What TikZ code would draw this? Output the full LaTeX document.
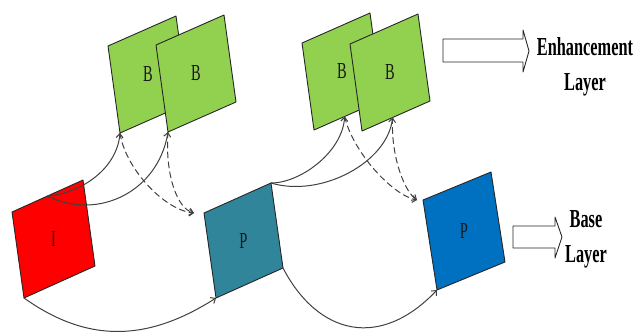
\documentclass[tikz,border=0pt]{standalone}
\usepackage{fontspec}
\setmainfont{Liberation Serif}
\usepackage{graphicx}
\usetikzlibrary{calc,arrows.meta}
\definecolor{bgreen}{RGB}{146,208,80}
\definecolor{pteal}{RGB}{49,133,155}
\definecolor{pblue}{RGB}{0,112,192}
\newcommand{\sq}[1]{\scalebox{0.63}[1]{#1}}
\newcommand{\pframe}[6]{% name, top left, width, height, colour, text
  \coordinate (#1-tl) at (#2);
  \coordinate (#1-tr) at ($(#1-tl)+(#3)$);
  \coordinate (#1-bl) at ($(#1-tl)+(#4)$);
  \coordinate (#1-br) at ($(#1-tr)+(#4)$);
  \draw[frame,fill=#5] (#1-tl)--(#1-tr)--(#1-br)--(#1-bl)--cycle;
  \node[lbl] (#1) at ($(#1-tl)!0.5!(#1-br)$) {\sq{#6}};
}
\begin{document}
\begin{tikzpicture}[x=1bp, y=-1bp, line join=round, line cap=round,
    frame/.style={draw=black!85, line width=0.9bp},
    lbl/.style={inner sep=0, text=black!90, font=\fontsize{23}{23}\selectfont},
    link/.style={draw=black!75, line width=1bp, -{Straight Barb[length=4bp,width=7bp]}},
    dlink/.style={link, dash pattern=on 6bp off 4bp},
    block/.style={draw=black!85, line width=0.9bp, fill=white},
    layertext/.style={align=center, inner sep=0, font=\fontsize{26}{35}\selectfont\bfseries}]
  \useasboundingbox (0,0) rectangle (633,331);
  % frames
  \pframe{I}{12,212}{71,-32}{12,86}{red}{I}
  \pframe{B1}{108,46}{68,-30}{12,87}{bgreen}{B}
  \pframe{B2}{156,45}{68,-30}{12,87}{bgreen}{B}
  \pframe{P1}{204,213}{67,-30}{12,85}{pteal}{P}
  \pframe{B3}{302,43}{68,-30}{12,87}{bgreen}{B}
  \pframe{B4}{350,44}{68,-30}{12,87}{bgreen}{B}
  \pframe{P2}{423,200}{68,-28}{14,90}{pblue}{P}
  \coordinate (I-tm) at ($(I-tl)!0.5!(I-tr)$);
  \coordinate (B3-bm) at ($(B3-bl)!0.45!(B3-br)$);
  \coordinate (B4-bm) at ($(B4-bl)!0.45!(B4-br)$);
  % prediction links
  \draw[link] (I-tm) .. controls +(35,-3) and +(-3,35) .. (B1-bl);
  \draw[link] (I-tm) .. controls +(50,25) and +(-10,60) .. (B2-bl);
  \draw[dlink] (B1-bl) .. controls +(5,35) and +(-30,-3) .. ([xshift=-10bp]P1-tl);
  \draw[dlink] (B2-bl) .. controls +(-3,40) and +(-18,-5) .. ([xshift=-10bp]P1-tl);
  \draw[link] (I-bl) .. controls +(66,47) and +(-66,42) .. (P1-bl);
  \draw[link] (P1-tr) .. controls +(30,0) and +(-2,35) .. (B3-bm);
  \draw[link] (P1-tr) .. controls +(50,15) and +(-5,45) .. (B4-bm);
  \draw[dlink] (B3-bm) .. controls +(8,35) and +(-25,-5) .. ([xshift=-6bp]P2-tl);
  \draw[dlink] (B4-bm) .. controls +(-2,40) and +(-12,-8) .. ([xshift=-6bp]P2-tl);
  \draw[link] (P1-br) .. controls +(35,67) and +(-57,60) .. (P2-bl);
  % layers
  \draw[block] (443,39) -- (523,39) -- (523,30) -- (529,51) -- (523,72) -- (523,62) -- (443,62) -- cycle;
  \draw[block] (513,226) -- (555,226) -- (555,217) -- (562,237) -- (555,258) -- (555,248) -- (513,248) -- cycle;
  \node[layertext] (enh) at (585,66.5) {\sq{Enhancement}\\\sq{Layer}};
  \node[layertext] (base) at (586,239.5) {\sq{Base}\\\sq{Layer}};
\end{tikzpicture}
\end{document}
